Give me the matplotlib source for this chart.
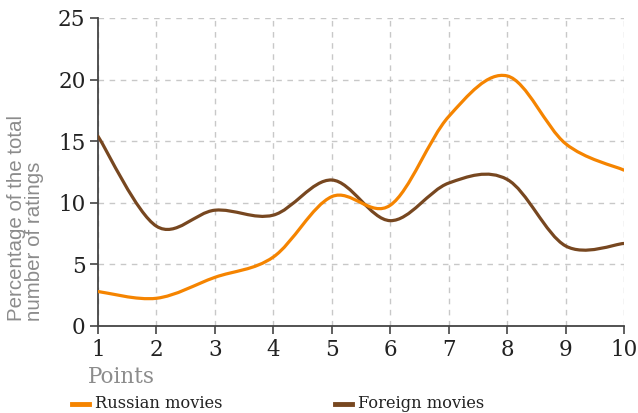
import numpy as np
import matplotlib
matplotlib.use("Agg")
import matplotlib.pyplot as plt
from matplotlib.path import Path
from matplotlib.patches import PathPatch
from matplotlib.lines import Line2D

# data
points = [1, 2, 3, 4, 5, 6, 7, 8, 9, 10]
russian = [2.8, 2.25, 3.95, 5.6, 10.5, 9.8, 17.0, 20.3, 14.8, 12.65]
foreign = [15.4, 8.1, 9.4, 9.0, 11.85, 8.55, 11.6, 11.9, 6.5, 6.7]
series_names = ["Russian movies", "Foreign movies"]

C_RU = "#f58400"
C_FO = "#774720"
SERIF = "DejaVu Serif"
W, H = 638, 413


def smooth_path(xs, ys):
    """Catmull-Rom curve through the points, as cubic bezier segments."""
    pts = np.column_stack([np.asarray(xs, float), np.asarray(ys, float)])
    ext = np.vstack([pts[0], pts, pts[-1]])
    verts = [tuple(pts[0])]
    codes = [Path.MOVETO]
    for i in range(1, len(ext) - 2):
        p0, p1, p2, p3 = ext[i - 1], ext[i], ext[i + 1], ext[i + 2]
        verts += [tuple(p1 + (p2 - p0) / 6.0), tuple(p2 - (p3 - p1) / 6.0), tuple(p2)]
        codes += [Path.CURVE4] * 3
    return Path(verts, codes)


fig = plt.figure(figsize=(W / 100, H / 100), dpi=100)
ax = fig.add_axes([98 / W, 1 - 326 / H, (624 - 98) / W, (326 - 18) / H])

for ys, col in [(foreign, C_FO), (russian, C_RU)]:
    ax.add_patch(PathPatch(smooth_path(points, ys), facecolor="none",
                           edgecolor=col, lw=2.3, capstyle="round", zorder=3))

ax.set_xlim(1, 10)
ax.set_ylim(0, 25)
ax.set_xticks(points)
ax.set_yticks([0, 5, 10, 15, 20, 25])
ax.grid(True, ls=(0, (4, 4)), color="#c8c8c8", lw=1.0)
ax.set_axisbelow(True)
for s in ["top", "right"]:
    ax.spines[s].set_visible(False)
for s in ["left", "bottom"]:
    ax.spines[s].set_color("#444444")
    ax.spines[s].set_linewidth(1.3)
ax.tick_params(direction="out", length=6, width=1.2, color="#444444",
               labelsize=15.5, labelcolor="#222222", pad=3)
for lab in ax.get_xticklabels() + ax.get_yticklabels():
    lab.set_family(SERIF)

fig.text(7 / W, 1 - 218 / H, "Percentage of the total\nnumber of ratings",
         rotation=90, ha="left", va="center", multialignment="left",
         fontsize=14.8, color="#8c8c8c", family="Liberation Sans",
         linespacing=0.95)
fig.text(88 / W, 1 - 377 / H, "Points", ha="left", va="center",
         fontsize=15.5, color="#8c8c8c", family=SERIF)

# legend drawn by hand: short thick handle + label
y_leg = 1 - 404 / H
for name, col, x0 in [(series_names[0], C_RU, 72), (series_names[1], C_FO, 335)]:
    fig.add_artist(Line2D([x0 / W, (x0 + 17) / W], [y_leg, y_leg],
                          transform=fig.transFigure, color=col, lw=3.5))
    fig.text((x0 + 23) / W, y_leg, name, ha="left", va="center",
             fontsize=11.7, color="#222222", family=SERIF)

fig.savefig("out.png", dpi=100)
